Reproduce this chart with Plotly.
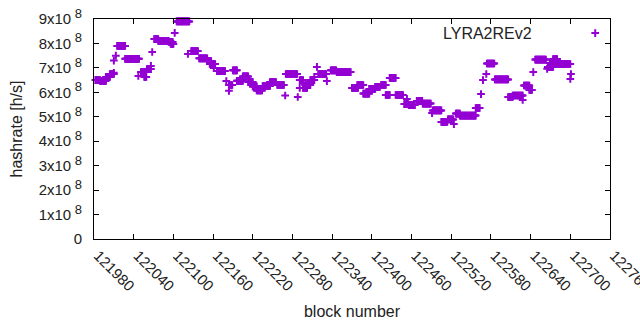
import plotly.graph_objects as go

# Runs of consecutive blocks sharing one hashrate value (x1e8 h/s)
run_start = [121982, 121989, 121998, 122004, 122010, 122010, 122013, 122015, 122027, 122047,
             122051, 122056, 122060, 122066, 122068, 122071, 122077, 122093, 122096, 122102,
             122105, 122122, 122127, 122139, 122151, 122155, 122161, 122166, 122180, 122184,
             122184, 122190, 122196, 122205, 122213, 122220, 122226, 122235, 122246, 122257,
             122269, 122270, 122288, 122291, 122291, 122296, 122299, 122307, 122313, 122317,
             122319, 122332, 122338, 122347, 122370, 122378, 122387, 122396, 122405, 122414,
             122421, 122427, 122436, 122449, 122453, 122456, 122468, 122477, 122491, 122492,
             122505, 122515, 122524, 122527, 122533, 122557, 122565, 122568, 122573, 122574,
             122586, 122606, 122613, 122628, 122630, 122638, 122644, 122647, 122665, 122666,
             122669, 122674, 122680, 122700, 122701]
run_end = [121989, 121998, 122004, 122010, 122010, 122010, 122013, 122027, 122048, 122047,
           122057, 122059, 122066, 122066, 122068, 122077, 122093, 122099, 122100, 122102,
           122124, 122122, 122137, 122151, 122157, 122163, 122161, 122178, 122180, 122184,
           122189, 122196, 122205, 122213, 122220, 122226, 122234, 122246, 122255, 122267,
           122269, 122287, 122288, 122296, 122291, 122302, 122307, 122313, 122313, 122317,
           122331, 122332, 122346, 122368, 122379, 122387, 122396, 122405, 122412, 122421,
           122427, 122436, 122447, 122455, 122453, 122465, 122476, 122489, 122491, 122505,
           122514, 122523, 122524, 122533, 122557, 122563, 122565, 122568, 122573, 122585,
           122606, 122613, 122628, 122628, 122638, 122642, 122644, 122663, 122665, 122674,
           122677, 122680, 122700, 122700, 122701]
hashrate_e8 = [6.50, 6.47, 6.63, 6.75, 6.80, 7.30, 7.50, 7.90, 7.37, 6.67,
               6.83, 6.63, 6.95, 7.08, 7.65, 8.18, 8.10, 8.06, 7.98, 8.43,
               8.90, 7.57, 7.69, 7.39, 7.28, 7.16, 7.00, 6.87, 6.46, 6.06,
               6.30, 6.90, 6.47, 6.65, 6.42, 6.24, 6.08, 6.26, 6.42, 6.30,
               5.87, 6.75, 5.81, 6.50, 6.18, 6.18, 6.30, 6.50, 6.63, 7.04,
               6.75, 6.46, 6.90, 6.83, 6.18, 6.30, 5.95, 6.14, 6.22, 6.30,
               5.89, 6.59, 5.89, 5.52, 5.73, 5.48, 5.65, 5.54, 5.15, 5.26,
               4.79, 4.89, 4.70, 5.13, 5.05, 5.36, 5.93, 6.50, 6.75, 7.18,
               6.53, 5.81, 5.87, 5.69, 6.28, 6.10, 6.83, 7.34, 6.96, 7.04,
               7.20, 7.36, 7.16, 6.55, 6.75]

x_ticks = list(range(121980, 122761, 60))
y_tickvals = [i * 1e8 for i in range(10)]
y_ticktext = ["0"] + [f"{i}x10<sup><span style='font-size:13px'> 8</span></sup>" for i in range(1, 10)]

blocks, values = [], []
for s, e, v in zip(run_start, run_end, hashrate_e8):
    for b in range(s, e + 1):
        blocks.append(b)
        values.append(v * 1e8)

PURPLE = "#9400d3"
FONT = "Liberation Sans, Arial, sans-serif"
TXT = "#222222"

fig = go.Figure()
fig.add_trace(go.Scatter(
    x=blocks, y=values, mode="markers", name="",
    marker=dict(symbol="cross-thin", size=5.5, color=PURPLE,
                line=dict(color=PURPLE, width=2)),
    cliponaxis=False, showlegend=True,
))

axis_common = dict(showline=True, linecolor="black", linewidth=1, mirror="ticks",
                   ticks="inside", ticklen=5, tickcolor="black", showgrid=False,
                   zeroline=False, automargin=False,
                   tickfont=dict(family=FONT, size=15, color=TXT))

fig.update_xaxes(range=[121979.99, 122760.01], tickvals=x_ticks,
                 ticktext=[str(t) for t in x_ticks], tickangle=45,
                 ticklabelstandoff=1, ticklabelshift=4, ticklabeloverflow="allow",
                 title=dict(text="block number", font=dict(family=FONT, size=16, color=TXT),
                            standoff=12),
                 **axis_common)
fig.update_yaxes(range=[0, 9e8], tickvals=y_tickvals, ticktext=y_ticktext,
                 ticklabelstandoff=8,
                 title=dict(text="hashrate [h/s]", font=dict(family=FONT, size=16, color=TXT),
                            standoff=12),
                 **axis_common)

fig.update_layout(
    width=640, height=330,
    margin=dict(l=94, r=30, t=19, b=91, pad=0),
    plot_bgcolor="white", paper_bgcolor="white",
    font=dict(family=FONT, size=15, color=TXT),
    legend=dict(x=0.6725, y=1.002, xanchor="left", yanchor="top",
                bgcolor="rgba(0,0,0,0)", borderwidth=0,
                title=dict(text="LYRA2REv2" + "&nbsp;" * 8, side="left",
                           font=dict(family=FONT, size=16, color=TXT)),
                font=dict(family=FONT, size=10), itemwidth=30),
)

fig.write_html("out.html", config={"displayModeBar": False},
               post_script="document.body.style.margin='0';document.body.style.overflow='hidden';")
